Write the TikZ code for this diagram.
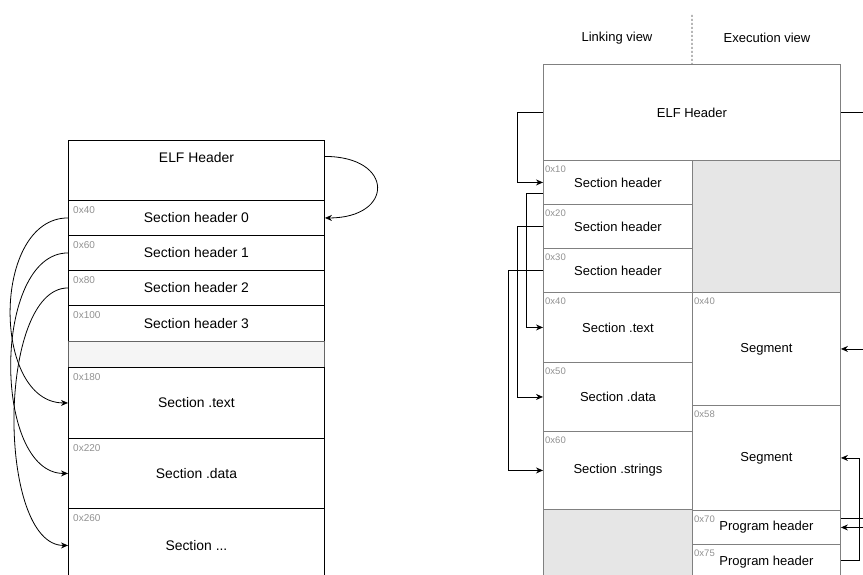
\documentclass[tikz,border=0pt]{standalone}
\usepackage{fontspec}
\setmainfont{Liberation Sans}
\usepackage{xcolor}
\usepackage{tikz}
\usetikzlibrary{arrows.meta}
\definecolor{framegray}{RGB}{128,128,128}
\definecolor{addrgray}{RGB}{145,145,145}
\definecolor{padgray}{RGB}{230,230,230}
\definecolor{padlight}{RGB}{245,245,245}
\definecolor{padline}{RGB}{102,102,102}

\tikzset{
  lbox/.style={draw=black, line width=0.9pt, anchor=north west, inner sep=0pt,
    minimum width=256pt, font=\fontsize{13.9}{16}\selectfont},
  rbox/.style={draw=framegray, line width=0.9pt, anchor=north west, inner sep=0pt,
    font=\fontsize{13}{15}\selectfont},
  laddr/.style={anchor=north west, inner xsep=5pt, inner ysep=6pt, text=addrgray,
    font=\fontsize{10}{12}\selectfont},
  raddr/.style={anchor=north west, inner xsep=2pt, inner ysep=6pt, text=addrgray,
    font=\fontsize{9.5}{11}\selectfont},
  link/.style={-{Stealth[length=7pt,width=6pt]}, line width=0.8pt},
  viewsep/.style={dash pattern=on 2pt off 2pt, line width=0.8pt, draw=black!80},
}

\begin{document}
\begin{tikzpicture}[x=1pt, y=-1pt]
        \useasboundingbox (0,0) rectangle (863,575);
        \clip (0,0) rectangle (863,575);

        % File layout (left)
        \node[lbox, minimum height=60pt, text depth=26pt] (elfL) at (68,140) {ELF Header}; % text sits high
        \node[lbox, minimum height=35pt, label={[laddr]north west:0x40}] (shA) at (68,200) {Section header 0};
        \node[lbox, minimum height=35pt, label={[laddr]north west:0x60}] (shB) at (68,235) {Section header 1};
        \node[lbox, minimum height=35pt, label={[laddr]north west:0x80}] (shC) at (68,270) {Section header 2};
        \node[lbox, minimum height=36pt, label={[laddr]north west:0x100}] (shD) at (68,305) {Section header 3};
        \node[lbox, minimum height=26pt, draw=padline, fill=padlight] (gapL) at (68,341) {};
        \node[lbox, minimum height=71pt, label={[laddr]north west:0x180}] (secText) at (68,367) {Section .text};
        \node[lbox, minimum height=70pt, label={[laddr]north west:0x220}] (secData) at (68,438) {Section .data};
        \node[lbox, minimum height=74pt, label={[laddr]north west:0x260}] (secMore) at (68,508) {Section ...};

        % Header table pointers
        \draw[link] ([yshift=14pt]elfL.east) to[out=0, in=0, looseness=2.9] (shA.east);
        \draw[link] (shA.west) to[out=180, in=180, looseness=1.06] (secText.west);
        \draw[link] (shB.west) to[out=180, in=180, looseness=0.88] (secData.west);
        \draw[link] (shC.west) to[out=180, in=180, looseness=0.71] (secMore.west);

        % Two views (right)
        \node[font=\fontsize{13}{15}\selectfont] (linkview) at (617,38) {Linking view};
        \node[font=\fontsize{13}{15}\selectfont] (execview) at (767,38) {Execution view};
        \node[rbox, minimum width=297pt, minimum height=96pt] (elfR) at (543,64) {ELF Header};
        \coordinate (viewtop) at (692,15);
        \draw[viewsep] (viewtop) -- (elfR.north);

        % Linking view column
        \node[rbox, minimum width=149pt, minimum height=44pt, label={[raddr]north west:0x10}] (rsh1) at (543,160) {Section header};
        \node[rbox, minimum width=149pt, minimum height=44pt, label={[raddr]north west:0x20}] (rsh2) at (543,204) {Section header};
        \node[rbox, minimum width=149pt, minimum height=44pt, label={[raddr]north west:0x30}] (rsh3) at (543,248) {Section header};
        \node[rbox, minimum width=149pt, minimum height=70pt, label={[raddr]north west:0x40}] (rText) at (543,292) {Section .text};
        \node[rbox, minimum width=149pt, minimum height=69pt, label={[raddr]north west:0x50}] (rData) at (543,362) {Section .data};
        \node[rbox, minimum width=149pt, minimum height=78pt, label={[raddr]north west:0x60}] (rStr) at (543,431) {Section .strings};
        \node[rbox, minimum width=149pt, minimum height=80pt, fill=padgray] (rpadL) at (543,509) {};

        % Execution view column
        \node[rbox, minimum width=148pt, minimum height=132pt, fill=padgray] (rpadR) at (692,160) {};
        \node[rbox, minimum width=148pt, minimum height=113pt, label={[raddr]north west:0x40}] (seg1) at (692,292) {Segment};
        \node[rbox, minimum width=148pt, minimum height=105pt, label={[raddr]north west:0x58}] (seg2) at (692,405) {Segment};
        \node[rbox, minimum width=148pt, minimum height=34pt, label={[raddr]north west:0x70}] (ph1) at (692,510) {Program header};
        \node[rbox, minimum width=148pt, minimum height=36pt, label={[raddr]north west:0x75}] (ph2) at (692,544) {Program header};

        % Section header pointers
        \draw[link] (elfR.west) -- ++(-26,0) |- (rsh1.west);
        \draw[link] ([yshift=-11pt]rsh1.west) -- ++(-17,0) |- (rText.west);
        \draw[link] (rsh2.west) -- ++(-26,0) |- (rData.west);
        \draw[link] (rsh3.west) -- ++(-35,0) |- (rStr.west);

        % Program header pointers
        \draw[link] (elfR.east) -- ++(40,0) |- (ph1.east);
        \draw[link] ([yshift=9pt]ph1.east) -- ++(30,0) |- (seg1.east);
        \draw[link] ([yshift=2pt]ph2.east) -- ++(18,0) |- (seg2.east);
    \end{tikzpicture}
\end{document}
